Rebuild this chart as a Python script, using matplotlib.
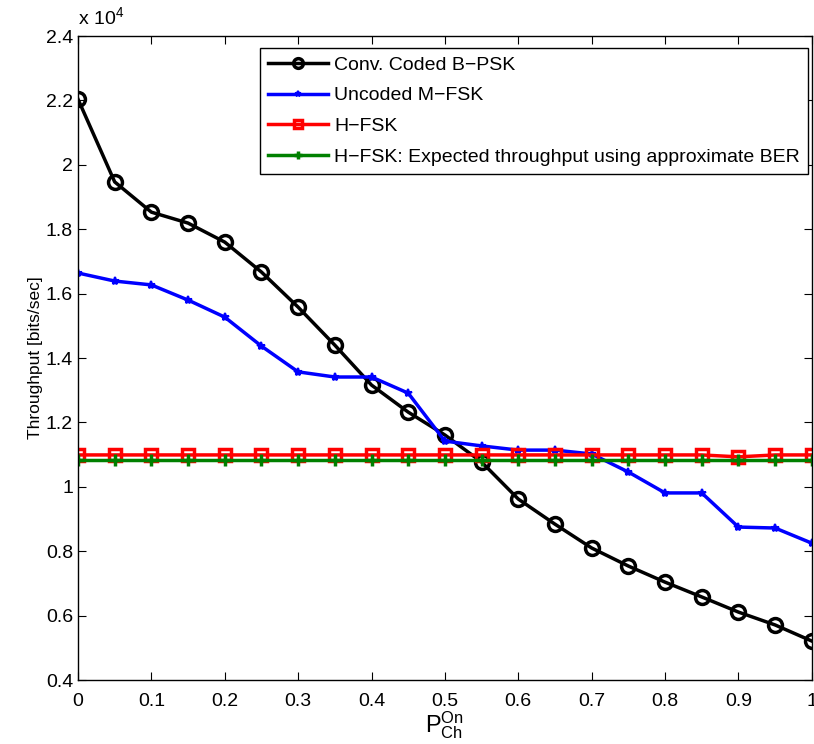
#!/usr/bin/env python3

import numpy as np
import matplotlib
matplotlib.use("Agg")
import matplotlib.pyplot as plt
from matplotlib.ticker import FuncFormatter

plt.rcParams['font.family'] = ['Liberation Sans', 'DejaVu Sans']
plt.rcParams['mathtext.fontset'] = 'custom'
plt.rcParams['mathtext.rm'] = 'Liberation Sans'
plt.rcParams['mathtext.it'] = 'Liberation Sans'

# data (throughput in units of 1e4 bits/sec)
p_on = [0.0, 0.05, 0.1, 0.15, 0.2, 0.25, 0.3, 0.35, 0.4, 0.45, 0.5,
        0.55, 0.6, 0.65, 0.7, 0.75, 0.8, 0.85, 0.9, 0.95, 1.0]
conv_bpsk = [2.204, 1.947, 1.853, 1.819, 1.760, 1.667, 1.558, 1.440, 1.316, 1.232, 1.161,
             1.077, 0.962, 0.884, 0.810, 0.754, 0.704, 0.658, 0.611, 0.571, 0.521]
uncoded_mfsk = [1.664, 1.639, 1.627, 1.580, 1.527, 1.437, 1.357, 1.341, 1.341, 1.291, 1.142,
                1.127, 1.114, 1.114, 1.102, 1.046, 0.981, 0.981, 0.875, 0.872, 0.825]
hfsk = [1.099, 1.099, 1.099, 1.099, 1.099, 1.099, 1.099, 1.099, 1.099, 1.099, 1.099,
        1.099, 1.099, 1.099, 1.099, 1.099, 1.099, 1.099, 1.093, 1.099, 1.099]
hfsk_approx = [1.084] * 21

labels = ["Conv. Coded B\u2212PSK", "Uncoded M\u2212FSK", "H\u2212FSK",
          "H\u2212FSK: Expected throughput using approximate BER"]


def main():
    fig = plt.figure(figsize=(8.14, 7.44), dpi=100)
    ax = fig.add_axes([0.0958, 0.086, 0.9015, 0.8656])

    ax.plot(p_on, conv_bpsk, "k-o", lw=2.5, ms=10, mew=2.5, mfc="none", label=labels[0])
    ax.plot(p_on, uncoded_mfsk, "-*", color="#0000ff", lw=2.5, ms=6, mew=1.5, label=labels[1])
    ax.plot(p_on, hfsk, "-s", color="#ff0000", lw=2.5, ms=9, mew=2.5, mfc="none", label=labels[2])
    ax.plot(p_on, hfsk_approx, "-+", color="#008000", lw=2.5, ms=8, mew=2.5, label=labels[3])

    ax.set_xlim(0, 1)
    ax.set_ylim(0.4, 2.4)
    ax.set_xticks(np.arange(0, 1.01, 0.1))
    ax.set_yticks(np.arange(0.4, 2.41, 0.2))
    fmt = FuncFormatter(lambda v, p: "%g" % round(v, 2))
    ax.xaxis.set_major_formatter(fmt)
    ax.yaxis.set_major_formatter(fmt)
    ax.tick_params(direction="in", top=True, right=True, labelsize=14, length=6, width=0.8)
    ax.tick_params(axis="x", pad=9)
    for s in ax.spines.values():
        s.set_linewidth(1.0)

    ax.set_xlabel(r"$\mathregular{P_{Ch}^{On}}$", fontsize=17, labelpad=0)
    ax.set_ylabel("Throughput [bits/sec]", fontsize=12.5, labelpad=2)
    ax.text(0.0, 1.012, r"x 10$^{\mathregular{4}}$", transform=ax.transAxes, fontsize=14,
            ha="left", va="bottom")

    leg = ax.legend(loc="upper right", bbox_to_anchor=(0.9946, 0.981), fontsize=14,
                    fancybox=False, edgecolor="k", framealpha=1, borderaxespad=0,
                    handlelength=3.1, labelspacing=0.68, borderpad=0.4, handletextpad=0.3,
                    markerscale=0.7)
    leg.get_frame().set_linewidth(1.0)

    fig.savefig("out.png", dpi=100)


if __name__ == '__main__':
    main()
